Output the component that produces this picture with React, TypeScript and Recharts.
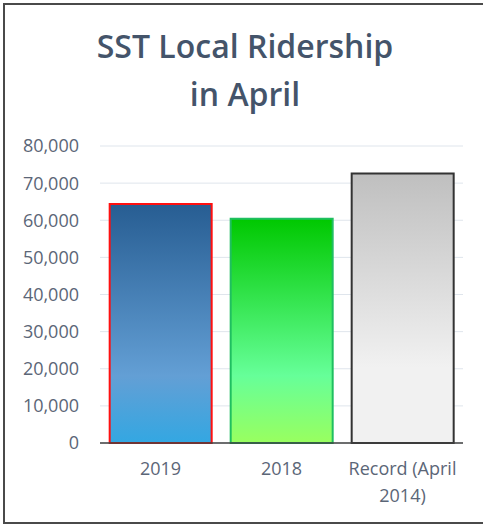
import React from "react";
import { BarChart, Bar, XAxis, YAxis, CartesianGrid, Cell, Text } from "recharts";

const categories = ["2019", "2018", "Record (April 2014)"];
const ridership = [64400, 60400, 72600];
const yTicks = [0, 10000, 20000, 30000, 40000, 50000, 60000, 70000, 80000];

const data = categories.map((name, i) => ({ name, value: ridership[i] }));

const fills = ["url(#gBlue)", "url(#gGreen)", "url(#gGray)"];
const strokes = ["#ff1010", "#1fbf60", "#333333"];

const FONT = "'Open Sans', Lato, sans-serif";
const LABEL = "#5b6677";

const XTick = (props: any) => {
  const { x, y, payload } = props;
  return (
    <Text
      x={x}
      y={y}
      width={125}
      textAnchor="middle"
      verticalAnchor="start"
      fontSize={18}
      fontFamily={FONT}
      style={{ fontSize: 18, fontFamily: FONT }}
      fill={LABEL}
      lineHeight={27}
    >
      {payload.value}
    </Text>
  );
};

export default function App() {
  return (
    <div
      style={{
        position: "absolute",
        left: 0,
        top: 0,
        width: 483,
        height: 525,
        overflow: "hidden",
        background: "#fff",
      }}
    >
      <div
        style={{
          position: "absolute",
          left: 3,
          top: 3,
          width: 500,
          height: 517,
          border: "2px solid #4a4a4a",
        }}
      />
      <div
        style={{
          position: "absolute",
          left: 0,
          top: 22,
          width: 490,
          textAlign: "center",
          fontFamily: FONT,
          fontWeight: 600,
          fontSize: 32,
          lineHeight: "48px",
          color: "#44546a",
        }}
      >
        SST Local Ridership
        <br />
        in April
      </div>
      <div style={{ position: "absolute", left: 0, top: 0 }}>
        <BarChart
          width={483}
          height={525}
          data={data}
          margin={{ top: 146, right: 20, bottom: 0, left: 0 }}
          barCategoryGap="8%"
        >
          <defs>
            <linearGradient id="gBlue" x1="0" y1="0" x2="0" y2="1">
              <stop offset="0%" stopColor="#275d92" />
              <stop offset="72%" stopColor="#639fd5" />
              <stop offset="100%" stopColor="#33a7e2" />
            </linearGradient>
            <linearGradient id="gGreen" x1="0" y1="0" x2="0" y2="1">
              <stop offset="0%" stopColor="#00c800" />
              <stop offset="70%" stopColor="#66ff99" />
              <stop offset="100%" stopColor="#99ff5f" />
            </linearGradient>
            <linearGradient id="gGray" x1="0" y1="0" x2="0" y2="1">
              <stop offset="0%" stopColor="#bfbfbf" />
              <stop offset="72%" stopColor="#f1f1f1" />
              <stop offset="100%" stopColor="#f1f1f1" />
            </linearGradient>
          </defs>
          <CartesianGrid vertical={false} stroke="#dfe5ec" strokeWidth={1} />
          <XAxis
            dataKey="name"
            height={82}
            axisLine={{ stroke: "#404040", strokeWidth: 1.5 }}
            tickLine={false}
            tickSize={0}
            tickMargin={19}
            interval={0}
            tick={<XTick />}
          />
          <YAxis
            width={100}
            domain={[0, 80000]}
            ticks={yTicks}
            interval={0}
            axisLine={false}
            tickLine={false}
            tickSize={0}
            tickMargin={21}
            tickFormatter={(v: number) => v.toLocaleString("en-US")}
            tick={{ fontSize: 18, fontFamily: FONT, fill: LABEL }}
          />
          <Bar dataKey="value" isAnimationActive={false} strokeWidth={2}>
            {data.map((d, i) => (
              <Cell key={d.name} fill={fills[i]} stroke={strokes[i]} />
            ))}
          </Bar>
        </BarChart>
      </div>
    </div>
  );
}
